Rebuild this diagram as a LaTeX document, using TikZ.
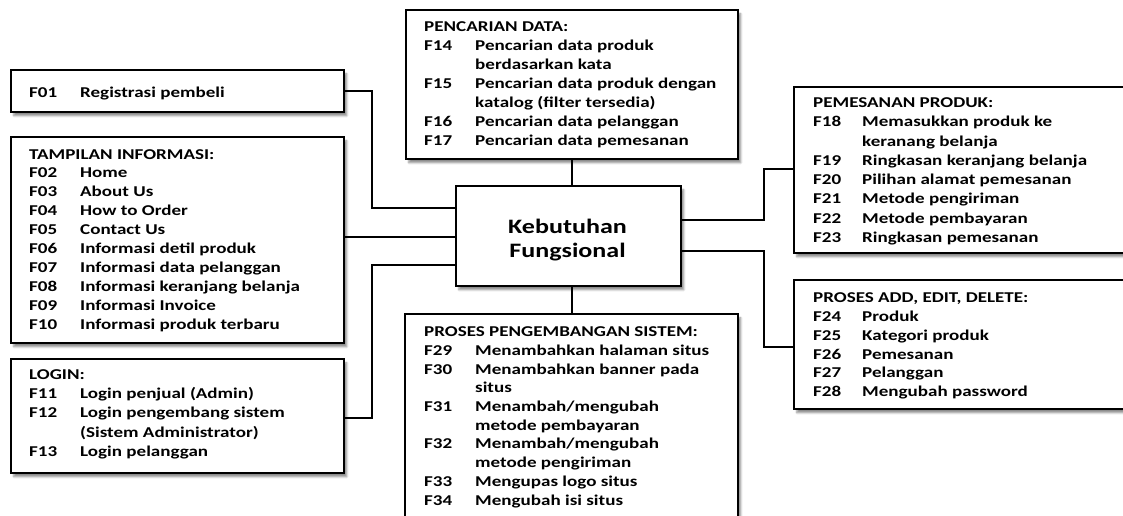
\documentclass[tikz,border=0pt]{standalone}
\usepackage{fontspec}
\setmainfont{Carlito}[FakeStretch=1.27]
\usetikzlibrary{shadows.blur}
\tikzset{
  box/.style={draw, line width=1.6pt, fill=white, inner sep=0pt,
    blur shadow={shadow xshift=3pt, shadow yshift=-4pt, shadow blur steps=6, shadow opacity=45}},
  conn/.style={line width=1.6pt},
  txt/.style={anchor=base west, inner sep=0pt, font=\bfseries},
  ctxt/.style={anchor=base, inner sep=0pt, font=\bfseries},
}
\newcommand{\fsz}[1]{\fontsize{15}{#1}\selectfont}
\begin{document}
\begin{tikzpicture}[x=1pt,y=-1pt]
\useasboundingbox (0,0) rectangle (1123,515);
\clip (0,0) rectangle (1123,515);

% boxes
\node[box, anchor=north west, minimum width=333pt, minimum height=42pt] (f01) at (10,69) {};
\node[box, anchor=north west, minimum width=333pt, minimum height=206pt] (tamp) at (10,136) {};
\node[box, anchor=north west, minimum width=333pt, minimum height=114pt] (login) at (10,358) {};
\node[box, anchor=north west, minimum width=332pt, minimum height=149pt] (cari) at (405,9) {};
\node[box, anchor=north west, minimum width=225pt, minimum height=100pt] (center) at (455,185) {};
\node[box, anchor=north west, minimum width=333pt, minimum height=230pt] (dev) at (404,313) {};
\node[box, anchor=north west, minimum width=350pt, minimum height=166pt] (pesan) at (793,86) {};
\node[box, anchor=north west, minimum width=350pt, minimum height=129pt] (crud) at (793,279) {};

% texts
\node[txt] (f01t) at (29,97.3) {\fsz{19}\begin{tabular}[t]{@{}p{51pt}@{}l@{}}F01 & Registrasi pembeli\end{tabular}};

\node[txt] (tampt) at (29,159) {\fsz{18.95}\begin{tabular}[t]{@{}p{51pt}@{}l@{}}
\multicolumn{2}{@{}l@{}}{TAMPILAN INFORMASI:}\\
F02 & Home\\
F03 & About Us\\
F04 & How to Order\\
F05 & Contact Us\\
F06 & Informasi detil produk\\
F07 & Informasi data pelanggan\\
F08 & Informasi keranjang belanja\\
F09 & Informasi Invoice\\
F10 & Informasi produk terbaru
\end{tabular}};

\node[txt] (logint) at (29,379.3) {\fsz{19.3}\begin{tabular}[t]{@{}p{51pt}@{}l@{}}
\multicolumn{2}{@{}l@{}}{LOGIN:}\\
F11 & Login penjual (Admin)\\
F12 & Login pengembang sistem\\
    & (Sistem Administrator)\\
F13 & Login pelanggan
\end{tabular}};

\node[txt] (carit) at (424,31.7) {\fsz{19}\begin{tabular}[t]{@{}p{51pt}@{}l@{}}
\multicolumn{2}{@{}l@{}}{PENCARIAN DATA:}\\
F14 & Pencarian data produk\\
    & berdasarkan kata\\
F15 & Pencarian data produk dengan\\
    & katalog (filter tersedia)\\
F16 & Pencarian data pelanggan\\
F17 & Pencarian data pemesanan
\end{tabular}};

\node[txt] (devt) at (424,336.7) {\fsz{18.7}\begin{tabular}[t]{@{}p{51pt}@{}l@{}}
\multicolumn{2}{@{}l@{}}{PROSES PENGEMBANGAN SISTEM:}\\
F29 & Menambahkan halaman situs\\
F30 & Menambahkan banner pada\\
    & situs\\
F31 & Menambah/mengubah\\
    & metode pembayaran\\
F32 & Menambah/mengubah\\
    & metode pengiriman\\
F33 & Mengupas logo situs\\
F34 & Mengubah isi situs
\end{tabular}};

\node[txt] (pesant) at (813,107.5) {\fsz{19.25}\begin{tabular}[t]{@{}p{49pt}@{}l@{}}
\multicolumn{2}{@{}l@{}}{PEMESANAN PRODUK:}\\
F18 & Memasukkan produk ke\\
    & keranang belanja\\
F19 & Ringkasan keranjang belanja\\
F20 & Pilihan alamat pemesanan\\
F21 & Metode pengiriman\\
F22 & Metode pembayaran\\
F23 & Ringkasan pemesanan
\end{tabular}};

\node[txt] (crudt) at (813,302.3) {\fsz{18.9}\begin{tabular}[t]{@{}p{49pt}@{}l@{}}
\multicolumn{2}{@{}l@{}}{PROSES ADD, EDIT, DELETE:}\\
F24 & Produk\\
F25 & Kategori produk\\
F26 & Pemesanan\\
F27 & Pelanggan\\
F28 & Mengubah password
\end{tabular}};

\node[ctxt] (centert) at (567.5,233.3) {\fontsize{20.5}{24.2}\selectfont\begin{tabular}[t]{@{}c@{}}Kebutuhan\\Fungsional\end{tabular}};

% connectors
\draw[conn] (f01.east |- 0,91) -- (372,91) |- (center.west |- 0,208);
\draw[conn] (tamp.east |- 0,237) -- (center.west |- 0,237);
\draw[conn] (login.east |- 0,418) -- (372,418) |- (center.west |- 0,265);
\draw[conn] (cari.south -| 572,0) -- (center.north -| 572,0);
\draw[conn] (center.south -| 572,0) -- (dev.north -| 572,0);
\draw[conn] (center.east |- 0,220) -- (764,220) |- (pesan.west |- 0,169);
\draw[conn] (center.east |- 0,251) -- (764,251) |- (crud.west |- 0,347);
\end{tikzpicture}
\end{document}
